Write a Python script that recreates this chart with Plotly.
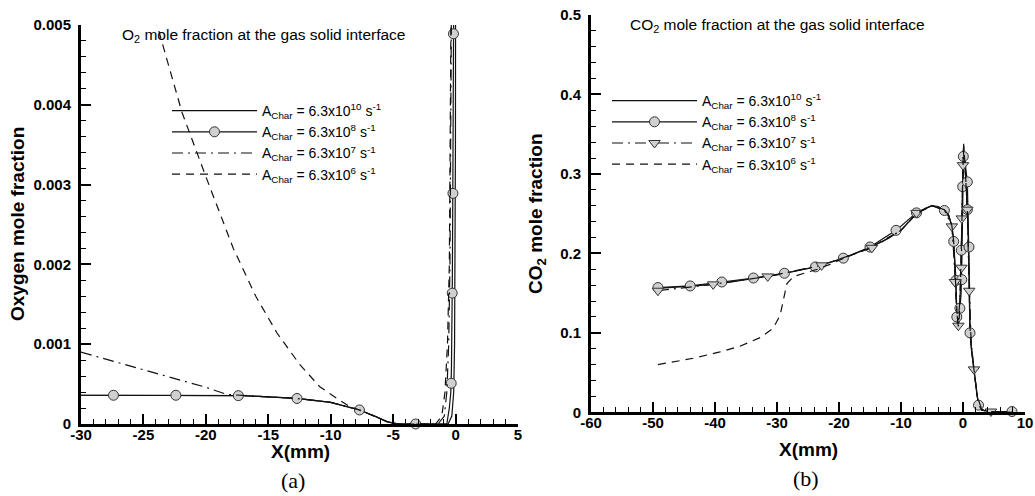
import plotly.graph_objects as go

# ---------------- Panel (a): O2 mole fraction ----------------
o2_x_a10 = [-30, -25, -20, -17, -15, -12.7, -10, -8.5, -7.7, -6.5, -5.5, -5, -4.5, -1.2, -0.6, -0.3, -0.15, -0.08, -0.04, -0.01, 0.0]
o2_y_a10 = [0.00036, 0.00036, 0.00036, 0.000355, 0.00034, 0.00032, 0.00027, 0.00021, 0.000176, 0.0001, 0.00003, 0.00001, 0, 0, 0, 0.0001, 0.0004, 0.001, 0.002, 0.0035, 0.0053]

o2_x_a8 = [-30, -25, -20, -17, -15, -12.7, -10, -8.5, -7.7, -6.5, -5.5, -5, -4.5, -1.3, -0.7, -0.5, -0.38, -0.33, -0.29, -0.26, -0.22, -0.17, -0.15]
o2_y_a8 = [0.00036, 0.00036, 0.00036, 0.000355, 0.00034, 0.00032, 0.00027, 0.00021, 0.000176, 0.0001, 0.00003, 0.00001, 0, 0, 0, 0.0002, 0.0004, 0.0007, 0.0012, 0.0018, 0.0029, 0.0049, 0.0053]
o2_mx_a8 = [-27.4, -22.4, -17.4, -12.7, -7.7, -3.2, -0.35, -0.27, -0.21, -0.17]
o2_my_a8 = [0.00036, 0.00036, 0.000355, 0.00032, 0.000176, 0.0, 0.00051, 0.00164, 0.00289, 0.00489]

o2_x_a7 = [-30, -25, -20, -18.3, -17, -15, -12.7, -10, -8.5, -7.7, -6.5, -5.5, -5, -4.5, -1.4, -0.9, -0.7, -0.55, -0.45, -0.38, -0.33]
o2_y_a7 = [0.0009, 0.00068, 0.00046, 0.00037, 0.000355, 0.00034, 0.00032, 0.00027, 0.00021, 0.000176, 0.0001, 0.00003, 0.00001, 0, 0, 0.0001, 0.0004, 0.001, 0.002, 0.0035, 0.0053]

o2_x_a6 = [-25, -23.9, -21.9, -20, -17.8, -16, -14.3, -12.5, -10.9, -9.3, -8.5, -7.7, -6.5, -5.5, -5, -4.5, -1.6, -1.1, -0.85, -0.65, -0.5, -0.42, -0.36]
o2_y_a6 = [0.0056, 0.005, 0.0039, 0.0031, 0.0022, 0.0016, 0.00114, 0.00075, 0.00047, 0.0003, 0.00022, 0.000176, 0.0001, 0.00003, 0.00001, 0, 0, 0.0001, 0.0004, 0.001, 0.002, 0.0035, 0.0053]

o2_xtick_vals = [-30, -25, -20, -15, -10, -5, 0, 5]
o2_xtick_text = ["-30", "-25", "-20", "-15", "-10", "-5", "0", "5"]
o2_ytick_vals = [0, 0.001, 0.002, 0.003, 0.004, 0.005]
o2_ytick_text = ["0", "0.001", "0.002", "0.003", "0.004", "0.005"]

# ---------------- Panel (b): CO2 mole fraction ----------------
co2_x_a10 = [-49.2, -44, -40, -35, -30, -25, -20, -15, -12, -10, -7.5, -6, -5, -4, -3, -2.3, -1.8, -1.5, -1.3, -1.1, -0.9, -0.75, -0.6, -0.45, -0.3, -0.15, 0.0, 0.1, 0.3, 0.55, 0.75, 0.9, 1.0, 1.1, 1.3, 1.6, 1.9, 2.2, 2.5, 3.0, 4.0, 6.0, 8.0]
co2_y_a10 = [0.156, 0.159, 0.161, 0.167, 0.173, 0.181, 0.192, 0.207, 0.219, 0.229, 0.25, 0.257, 0.26, 0.259, 0.255, 0.248, 0.235, 0.215, 0.18, 0.14, 0.115, 0.108, 0.12, 0.15, 0.19, 0.25, 0.31, 0.338, 0.315, 0.28, 0.245, 0.2, 0.16, 0.11, 0.085, 0.06, 0.045, 0.025, 0.01, 0.003, 0.001, 0.0005, 0.0]

co2_x_a8 = [-49.2, -44, -38.9, -33.8, -28.8, -23.8, -19.3, -15, -10.8, -7.5, -5, -3.0, -2.2, -1.7, -1.5, -1.3, -1.13, -1.0, -0.85, -0.65, -0.5, -0.3, -0.2, -0.1, -0.05, 0.05, 0.1, 0.4, 0.7, 0.8, 0.97, 1.05, 1.13, 1.4, 1.77, 2.1, 2.5, 3.0, 4.5, 7.9]
co2_y_a8 = [0.157, 0.159, 0.164, 0.169, 0.175, 0.183, 0.194, 0.208, 0.229, 0.251, 0.26, 0.254, 0.245, 0.23, 0.215, 0.19, 0.166, 0.12, 0.108, 0.115, 0.131, 0.15, 0.185, 0.24, 0.284, 0.322, 0.33, 0.31, 0.29, 0.255, 0.208, 0.16, 0.1, 0.075, 0.054, 0.03, 0.009, 0.003, 0.001, 0.001]
co2_mx_a8 = [-49.2, -44.0, -38.9, -33.8, -28.8, -23.8, -19.3, -15.0, -10.8, -7.5, -3.0, -1.5, -1.13, -1.0, -0.5, -0.2, -0.27, -0.05, 0.05, 0.7, 0.7, 0.97, 1.13, 2.5, 7.9]
co2_my_a8 = [0.157, 0.159, 0.164, 0.169, 0.175, 0.183, 0.194, 0.208, 0.229, 0.251, 0.254, 0.215, 0.166, 0.12, 0.131, 0.167, 0.204, 0.284, 0.322, 0.29, 0.255, 0.208, 0.1, 0.009, 0.001]

co2_x_a7 = [-49.2, -40.3, -31.5, -22.8, -14.7, -10, -7.5, -5, -3, -1.8, -1.5, -1.3, -1.0, -0.75, -0.5, -0.25, -0.2, 0.0, 0.05, 0.4, 0.7, 0.85, 1.0, 1.3, 1.77, 2.3, 3.0, 4.5, 8.0]
co2_y_a7 = [0.153, 0.161, 0.171, 0.185, 0.207, 0.229, 0.251, 0.26, 0.255, 0.234, 0.2, 0.164, 0.125, 0.109, 0.14, 0.182, 0.244, 0.311, 0.33, 0.3, 0.255, 0.2, 0.153, 0.09, 0.054, 0.02, 0.004, 0.001, 0.0]
co2_mx_a7 = [-49.2, -40.3, -31.5, -22.8, -14.7, -7.5, -1.8, -1.3, -0.75, -0.25, -0.2, 0.0, 0.7, 1.0, 1.77, 4.5]
co2_my_a7 = [0.153, 0.161, 0.171, 0.185, 0.207, 0.251, 0.234, 0.164, 0.109, 0.182, 0.244, 0.311, 0.255, 0.153, 0.054, 0.001]

co2_x_a6 = [-49.2, -43.5, -39.2, -36, -32.7, -30.6, -29.5, -28.9, -28.4, -27.3, -25.7, -23.5, -21.2, -19.5, -15, -10, -7.5, -5, -3, -2.3, -1.8, -1.5, -1.3, -1.1, -0.9, -0.75, -0.6, -0.45, -0.3, -0.15, 0.0, 0.1, 0.3, 0.55, 0.75, 0.9, 1.0, 1.1, 1.3, 1.6, 1.9, 2.2, 2.5, 3.0, 4.0, 6.0, 8.0]
co2_y_a6 = [0.06, 0.068, 0.076, 0.083, 0.094, 0.106, 0.122, 0.145, 0.162, 0.171, 0.175, 0.18, 0.187, 0.193, 0.207, 0.229, 0.25, 0.26, 0.255, 0.248, 0.235, 0.215, 0.18, 0.14, 0.115, 0.108, 0.12, 0.15, 0.19, 0.25, 0.31, 0.335, 0.315, 0.28, 0.245, 0.2, 0.16, 0.11, 0.085, 0.06, 0.045, 0.025, 0.01, 0.003, 0.001, 0.0005, 0.0]

co2_xtick_vals = [-60, -50, -40, -30, -20, -10, 0, 10]
co2_xtick_text = ["-60", "-50", "-40", "-30", "-20", "-10", "0", "10"]
co2_ytick_vals = [0, 0.1, 0.2, 0.3, 0.4, 0.5]
co2_ytick_text = ["0", "0.1", "0.2", "0.3", "0.4", "0.5"]

legend_labels = [
    "A<sub>Char</sub> = 6.3x10<sup>10</sup> s<sup>-1</sup>",
    "A<sub>Char</sub> = 6.3x10<sup>8</sup> s<sup>-1</sup>",
    "A<sub>Char</sub> = 6.3x10<sup>7</sup> s<sup>-1</sup>",
    "A<sub>Char</sub> = 6.3x10<sup>6</sup> s<sup>-1</sup>",
]

LINE_C = "#111111"
LW = 1.2
DASH = "8px,6px"
DASHDOT = "11px,5px,2px,5px"
circle_m = dict(symbol="circle", size=10, color="#d0d0d0", line=dict(color="#333333", width=1))
tri_m = dict(symbol="triangle-down", size=10, color="#d0d0d0", line=dict(color="#333333", width=1))

fig = go.Figure()

def add_line(x, y, xa, ya, dash, name, legend, show):
    fig.add_trace(go.Scatter(x=x, y=y, mode="lines", xaxis=xa, yaxis=ya,
                             line=dict(color=LINE_C, width=LW, dash=dash),
                             name=name, legend=legend, showlegend=show, hoverinfo="skip"))

def add_markers(x, y, xa, ya, marker):
    fig.add_trace(go.Scatter(x=x, y=y, mode="markers", xaxis=xa, yaxis=ya, marker=marker,
                             showlegend=False, cliponaxis=False, hoverinfo="skip"))

def add_legend_only(xa, ya, dash, marker, name, legend):
    fig.add_trace(go.Scatter(x=[None], y=[None], mode="lines+markers", xaxis=xa, yaxis=ya,
                             line=dict(color=LINE_C, width=LW, dash=dash), marker=marker,
                             name=name, legend=legend, showlegend=True))

# Panel (a)
add_line(o2_x_a10, o2_y_a10, "x", "y", "solid", legend_labels[0], "legend", True)
add_line(o2_x_a8, o2_y_a8, "x", "y", "solid", legend_labels[1], "legend", False)
add_markers(o2_mx_a8, o2_my_a8, "x", "y", circle_m)
add_legend_only("x", "y", "solid", circle_m, legend_labels[1], "legend")
add_line(o2_x_a7, o2_y_a7, "x", "y", DASHDOT, legend_labels[2], "legend", True)
add_line(o2_x_a6, o2_y_a6, "x", "y", DASH, legend_labels[3], "legend", True)

# Panel (b)
add_line(co2_x_a10, co2_y_a10, "x2", "y2", "solid", legend_labels[0], "legend2", True)
add_line(co2_x_a8, co2_y_a8, "x2", "y2", "solid", legend_labels[1], "legend2", False)
add_markers(co2_mx_a8, co2_my_a8, "x2", "y2", circle_m)
add_legend_only("x2", "y2", "solid", circle_m, legend_labels[1], "legend2")
add_line(co2_x_a7, co2_y_a7, "x2", "y2", DASHDOT, legend_labels[2], "legend2", False)
add_markers(co2_mx_a7, co2_my_a7, "x2", "y2", tri_m)
add_legend_only("x2", "y2", DASHDOT, tri_m, legend_labels[2], "legend2")
add_line(co2_x_a6, co2_y_a6, "x2", "y2", DASH, legend_labels[3], "legend2", True)

W, H = 1035, 496
TICKFONT = dict(family="Liberation Sans, Arial, sans-serif", size=15, color="black", weight="bold")

def axis(dom, rng, tv, tt, mdt, anchor, standoff):
    return dict(domain=dom, range=rng, tickmode="array", tickvals=tv, ticktext=tt, anchor=anchor,
                showline=True, linewidth=3, linecolor="black", ticks="inside", ticklen=10, tickwidth=2,
                tickcolor="black", showgrid=False, zeroline=False, tickfont=TICKFONT,
                ticklabelstandoff=standoff, automargin=False,
                minor=dict(dtick=mdt, tick0=0, ticks="inside", ticklen=5, tickwidth=1,
                           tickcolor="black", showgrid=False))

LEGFONT = dict(family="Liberation Sans, Arial, sans-serif", size=14, color="black")

fig.update_layout(
    width=W, height=H, margin=dict(l=0, r=0, t=0, b=0, autoexpand=False),
    paper_bgcolor="white", plot_bgcolor="white",
    xaxis=axis([81 / W, 518 / W], [-30, 5], o2_xtick_vals, o2_xtick_text, 1, "y", -5),
    yaxis=axis([1 - 424 / H, 1 - 25 / H], [0, 0.005], o2_ytick_vals, o2_ytick_text, 0.0002, "x", 4),
    xaxis2=axis([591 / W, 1025 / W], [-60, 10], co2_xtick_vals, co2_xtick_text, 2, "y2", -5),
    yaxis2=axis([1 - 412.3 / H, 1 - 15 / H], [0, 0.5], co2_ytick_vals, co2_ytick_text, 0.02, "x2", 4),
    legend=dict(x=167 / W, y=1 - 95 / H, xanchor="left", yanchor="top", bgcolor="rgba(0,0,0,0)",
                font=LEGFONT, itemwidth=85, tracegroupgap=0),
    legend2=dict(x=607 / W, y=1 - 85 / H, xanchor="left", yanchor="top", bgcolor="rgba(0,0,0,0)",
                 font=LEGFONT, itemwidth=85, tracegroupgap=0),
    showlegend=True,
)

ANNFONT = dict(family="Liberation Sans, Arial, sans-serif", size=15.5, color="black")
TITLEFONT = dict(family="Liberation Sans, Arial, sans-serif", size=19, color="black", weight="bold")
SERIF = dict(family="Liberation Serif, Times New Roman, serif", size=22, color="black")

annotations = [
    dict(text="O<sub>2</sub> mole fraction at the gas solid interface", x=120 / W, y=1 - 35 / H, xanchor="left", yanchor="middle", font=ANNFONT),
    dict(text="CO<sub>2</sub> mole fraction at the gas solid interface", x=628 / W, y=1 - 25 / H, xanchor="left", yanchor="middle", font=ANNFONT),
    dict(text="Oxygen mole fraction", x=17 / W, y=1 - 224 / H, textangle=-90, xanchor="center", yanchor="middle", font=TITLEFONT),
    dict(text="CO<sub>2</sub> mole fraction", x=537 / W, y=1 - 214 / H, textangle=-90, xanchor="center", yanchor="middle", font=TITLEFONT),
    dict(text="X(mm)", x=300 / W, y=1 - 451 / H, xanchor="center", yanchor="middle", font=TITLEFONT),
    dict(text="X(mm)", x=808 / W, y=1 - 449 / H, xanchor="center", yanchor="middle", font=TITLEFONT),
    dict(text="(a)", x=293 / W, y=1 - 480 / H, xanchor="center", yanchor="middle", font=SERIF),
    dict(text="(b)", x=806 / W, y=1 - 478 / H, xanchor="center", yanchor="middle", font=SERIF),
]
for a in annotations:
    a.update(xref="paper", yref="paper", showarrow=False)
fig.update_layout(annotations=annotations)

fig.write_html("out.html")
